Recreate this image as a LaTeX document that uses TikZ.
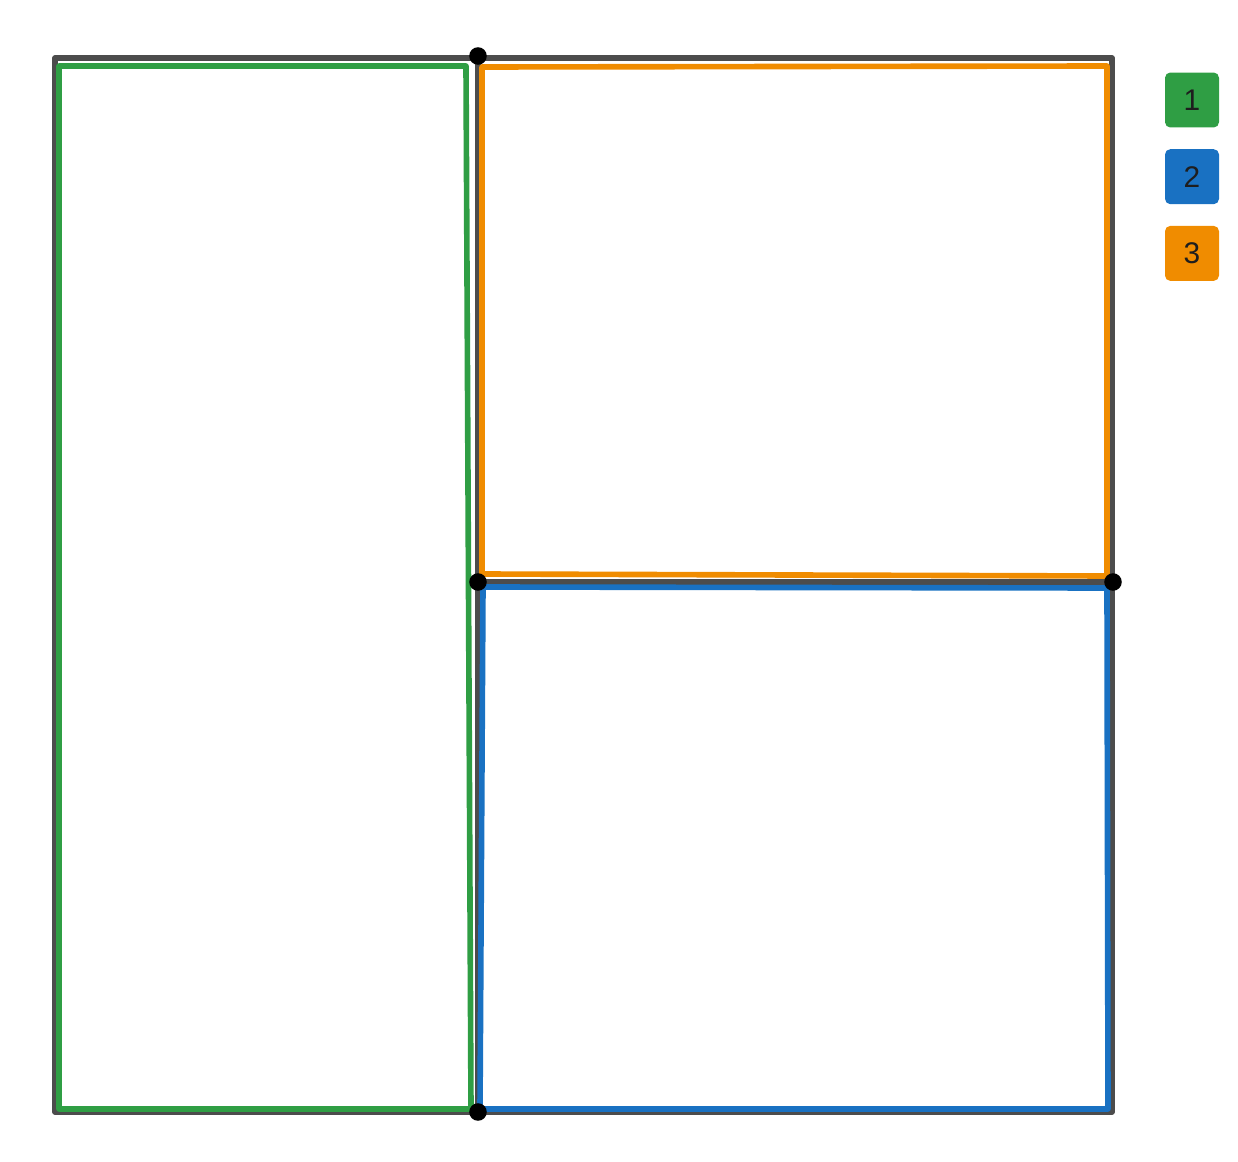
\documentclass[tikz,border=0pt]{standalone}
\usepackage{fontspec}
\setsansfont{Liberation Sans}
\usetikzlibrary{positioning}
\definecolor{partgreen}{RGB}{47,158,68}
\definecolor{partblue}{RGB}{25,113,194}
\definecolor{partorange}{RGB}{240,140,0}
\definecolor{inkgrey}{RGB}{30,30,30}
\tikzset{
  frameline/.style={line width=3pt, black!70, line cap=round, line join=round},
  partline/.style={line width=3.2pt, line join=round, line cap=round},
  joint/.style={circle, fill=black, inner sep=0pt, minimum size=10pt},
  keybox/.style={rounded corners=3pt, minimum width=1.08cm, minimum height=1.1cm,
    inner sep=0pt, font=\sffamily\fontsize{17}{17}\selectfont, text=inkgrey}
}

\begin{document}
\begin{tikzpicture}[x=0.02cm, y=-0.02cm]
  \useasboundingbox (0,0) rectangle (1238,1162);

  % outer frame and cuts
  \draw[frameline] (55,58) rectangle (1112,1112);
  \draw[frameline] (478,58) -- (478,1112);
  \draw[frameline] (478,582) -- (1112,582);

  % parts
  \draw[partline, partgreen] (59,66) -- (466,66) -- (471,1109) -- (59,1109) -- cycle;
  \draw[partline, partorange] (482,67) -- (1107,66) -- (1107,576) -- (482,574) -- cycle;
  \draw[partline, partblue] (483,587) -- (1107,588) -- (1108,1109) -- (480,1109) -- cycle;

  % joints
  \foreach \x/\y/\n in {478/56/ja, 478/582/jb, 1113/582/jc, 478/1112/jd} {
    \node[joint] (\n) at (\x,\y) {};
  }

  % key
  \node[keybox, fill=partgreen] (key1) at (1192,100) {1};
  \node[keybox, fill=partblue, below=0.42cm of key1] (key2) {2};
  \node[keybox, fill=partorange, below=0.42cm of key2] (key3) {3};
\end{tikzpicture}
\end{document}
